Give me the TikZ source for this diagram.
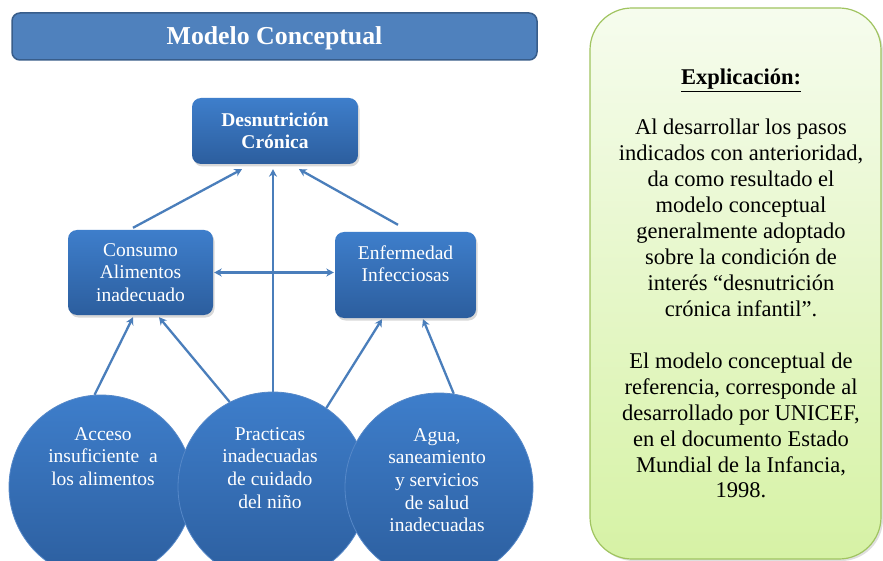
\documentclass[tikz,border=0pt]{standalone}
\usepackage{fontspec}
\setmainfont{Liberation Serif}
\usetikzlibrary{arrows.meta,shadows}
\definecolor{titlefill}{RGB}{79,129,189}
\definecolor{titledraw}{RGB}{56,93,138}
\definecolor{boxtop}{RGB}{62,126,203}
\definecolor{boxbot}{RGB}{44,94,158}
\definecolor{circedge}{RGB}{86,136,200}
\definecolor{arrowc}{RGB}{74,126,187}
\definecolor{paneltop}{RGB}{246,252,238}
\definecolor{panelbot}{RGB}{214,242,165}
\definecolor{paneldraw}{RGB}{160,196,96}
\pgfdeclarelayer{bg}
\pgfsetlayers{bg,main}
\begin{document}
\begin{tikzpicture}[x=1pt,y=-1pt,
  box/.style={rounded corners=9pt, top color=boxtop, bottom color=boxbot, draw=none,
    text=white, align=center, inner sep=0pt, font=\fontsize{19.5}{22.7}\selectfont,
    drop shadow={shadow xshift=1.5pt,shadow yshift=-2.5pt,opacity=0.3}},
  circ/.style={circle, minimum size=#1, inner sep=0pt, top color=boxtop, bottom color=boxbot,
    draw=circedge, line width=0.8pt},
  ctext/.style={text=white, align=center, anchor=north, inner sep=0pt,
    font=\fontsize{19.5}{22.7}\selectfont},
  conn/.style={draw=arrowc, line width=2.3pt, -{Stealth[length=7.5pt,width=8pt]}},
]
\useasboundingbox (0,0) rectangle (883,561);
\clip (0,0) rectangle (883,561);
\begin{pgfonlayer}{bg}
  \fill[white] (0,0) rectangle (883,561);
\end{pgfonlayer}

% title
\node[rounded corners=8pt, fill=titlefill, draw=titledraw, line width=1.5pt,
  minimum width=525pt, minimum height=47pt, inner sep=0pt, text=white,
  text height=17pt, text depth=0pt,
  font=\bfseries\fontsize{25.8}{30}\selectfont] (title) at (274.5,36.5) {Modelo Conceptual};

% explanation panel
\node[rounded corners=42pt, top color=paneltop, bottom color=panelbot, draw=paneldraw,
  line width=1.2pt, minimum width=291pt, minimum height=551pt, inner sep=0pt,
  drop shadow={shadow xshift=2pt,shadow yshift=-2pt,opacity=0.25}] (panel) at (735.5,283.5) {};
\node[anchor=north, align=center, inner sep=0pt, text=black,
  font=\fontsize{22.5}{25.9}\selectfont] (expl) at (741,69)
  {\underline{\textbf{Explicación:}}\\[24pt]
   Al desarrollar los pasos\\
   indicados con anterioridad,\\
   da como resultado el\\
   modelo conceptual\\
   generalmente adoptado\\
   sobre la condición de\\
   interés “desnutrición\\
   crónica infantil”.\\[26.5pt]
   El modelo conceptual de\\
   referencia, corresponde al\\
   desarrollado por UNICEF,\\
   en el documento Estado\\
   Mundial de la Infancia,\\
   1998.};

% boxes
\node[box, minimum width=166pt, minimum height=66pt,
  font=\bfseries\fontsize{19.5}{22}\selectfont] (des) at (275,131) {Desnutrición\\Crónica};
\node[box, minimum width=145pt, minimum height=85pt] (con) at (140.5,272.5) {Consumo\\Alimentos\\inadecuado};
\node[box, minimum width=141pt, minimum height=86pt] (enf) at (405.5,275) {Enfermedad\\Infecciosas\\\mbox{}};

% circles
\node[circ=184pt] (acc) at (101,487) {};
\node[circ=190pt] (prac) at (273,487) {};
\node[circ=188pt] (agua) at (439,487) {};
\node[ctext] (accT) at (103,427) {Acceso\\insuficiente~ a\\los alimentos};
\node[ctext] (pracT) at (270,427) {Practicas\\inadecuadas\\de cuidado\\del niño};
\node[ctext] (aguaT) at (437,428) {Agua,\\saneamiento\\y servicios\\de salud\\inadecuadas};

% connectors
\begin{pgfonlayer}{bg}
  \draw[conn] ([xshift=-7.5pt,yshift=2pt]con.north) -- ([xshift=-33pt,yshift=-5pt]des.south);
  \draw[conn] ([xshift=-7.5pt,yshift=7pt]enf.north) -- ([xshift=24pt,yshift=-5pt]des.south);
  \draw[conn, shorten >=5pt] (prac.north) -- (prac.north |- des.south);
  \draw[draw=arrowc, line width=2.3pt, {Stealth[length=7.5pt,width=8pt]}-{Stealth[length=7.5pt,width=8pt]}]
    ([xshift=1pt]con.east) -- ([xshift=-1pt]con.east -| enf.west);
  \draw[conn] (acc.94) -- ([xshift=-7.5pt,yshift=-2pt]con.south);
  \draw[conn] (prac.117) -- ([xshift=18.5pt,yshift=-2pt]con.south);
  \draw[conn] (prac.56) -- ([xshift=-23.5pt,yshift=-1pt]enf.south);
  \draw[conn] (agua.81) -- ([xshift=17.5pt,yshift=-1pt]enf.south);
\end{pgfonlayer}
\end{tikzpicture}
\end{document}
